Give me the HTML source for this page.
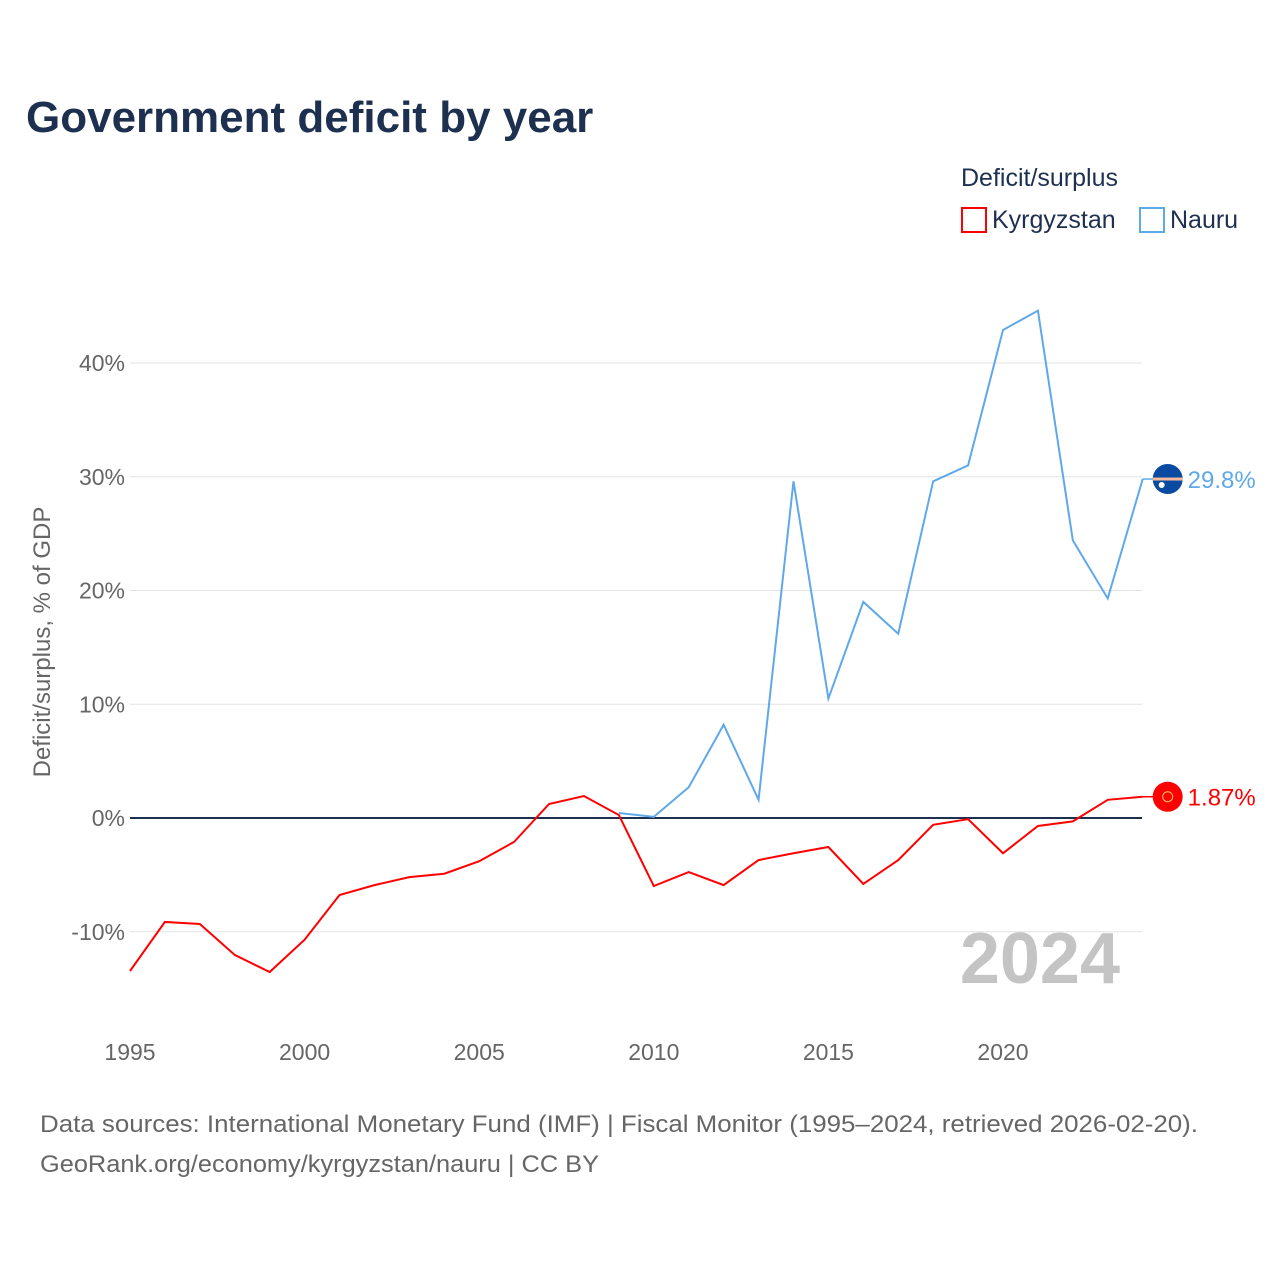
<!DOCTYPE html>
<html><head><meta charset="utf-8"><style>
body{margin:0;background:#fff;font-family:"Liberation Sans",sans-serif}
svg{display:block}
</style></head><body>
<svg id="chart" width="1280" height="1280" viewBox="0 0 1280 1280">
<text x="26" y="132" font-size="44" font-weight="bold" fill="#1d3050">Government deficit by year</text>
<text x="961" y="186" font-size="25" fill="#1d3050">Deficit/surplus</text>
<g><rect x="962" y="208" width="24" height="24" fill="none" stroke="#ff0000" stroke-width="2"/><text x="992" y="228" font-size="25" fill="#1d3050">Kyrgyzstan</text></g>
<g><rect x="1140" y="208" width="24" height="24" fill="none" stroke="#5fa8ea" stroke-width="2"/><text x="1170" y="228" font-size="25" fill="#1d3050">Nauru</text></g>
<g id="grid"></g><g id="ylab"></g><g id="xlab"></g><g id="lines"></g>
<text transform="translate(50,642) rotate(-90)" text-anchor="middle" font-size="24" fill="#666">Deficit/surplus, % of GDP</text>
<text x="1120" y="983" text-anchor="end" font-size="72" font-weight="bold" fill="#c4c4c4">2024</text>
<text x="40" y="1132" font-size="24" fill="#666" textLength="1158" lengthAdjust="spacingAndGlyphs">Data sources: International Monetary Fund (IMF) | Fiscal Monitor (1995–2024, retrieved 2026-02-20).</text>
<text x="40" y="1172" font-size="24" fill="#666" textLength="559" lengthAdjust="spacingAndGlyphs">GeoRank.org/economy/kyrgyzstan/nauru | CC BY</text>
</svg>
<script>
const years=[1995,1996,1997,1998,1999,2000,2001,2002,2003,2004,2005,2006,2007,2008,2009,2010,2011,2012,2013,2014,2015,2016,2017,2018,2019,2020,2021,2022,2023,2024];
const kyrgyzstan=[-13.45,-9.14,-9.32,-12.04,-13.54,-10.7,-6.77,-5.9,-5.2,-4.9,-3.8,-2.1,1.23,1.93,0.26,-5.98,-4.75,-5.9,-3.7,-3.1,-2.55,-5.8,-3.7,-0.6,-0.1,-3.1,-0.7,-0.3,1.6,1.87];
const nauruYears=[2009,2010,2011,2012,2013,2014,2015,2016,2017,2018,2019,2020,2021,2022,2023,2024];
const nauru=[0.44,0.1,2.7,8.2,1.6,29.6,10.5,19.0,16.2,29.6,31.0,42.9,44.6,24.4,19.3,29.8];
const yTicks=[-10,0,10,20,30,40];
const yTickLabels=["-10%","0%","10%","20%","30%","40%"];
const xTicks=[1995,2000,2005,2010,2015,2020];
const X=y=>130+(y-1995)*34.92;
const Y=v=>818-v*11.375;
const NS="http://www.w3.org/2000/svg";
function mk(t,a,p){const e=document.createElementNS(NS,t);for(const k in a)e.setAttribute(k,a[k]);p.appendChild(e);return e;}
const grid=document.getElementById('grid'),yl=document.getElementById('ylab'),xl=document.getElementById('xlab'),ln=document.getElementById('lines');
yTicks.forEach((v,i)=>{
 const g=mk('line',{x1:130,x2:1142,y1:Y(v),y2:Y(v),stroke:v===0?'#1d3050':'#e3e3e3','stroke-width':v===0?2:1},grid);
 
 
 const t=mk('text',{x:125,y:Y(v)+8,'text-anchor':'end','font-size':23,fill:'#666'},yl);t.textContent=yTickLabels[i];
 
 
});
xTicks.forEach(v=>{
 const t=mk('text',{x:X(v),y:1060,'text-anchor':'middle','font-size':23,fill:'#666'},xl);t.textContent=v;
 
 
});
function series(xs,vs,col,name,flag){
 const p=mk('polyline',{points:xs.map((x,i)=>X(x)+','+Y(vs[i])).join(' '),fill:'none',stroke:col,'stroke-width':2},ln);
 
 
 const lv=vs[vs.length-1],lx=X(xs[xs.length-1]),ly=Y(lv);
 mk('line',{x1:lx,x2:lx+12,y1:ly,y2:ly,stroke:col,'stroke-width':1.5},ln);
 const c=mk('circle',{cx:lx+25,cy:ly,r:15,fill:flag},ln);
 
 
 if(name==='nauru'){mk('rect',{x:lx+10,y:ly-1.5,width:30,height:3,fill:'#f4b8a0'},ln);mk('circle',{cx:lx+19,cy:ly+6,r:3,fill:'#fff'},ln);}
 else{mk('circle',{cx:lx+25,cy:ly,r:5,fill:'none',stroke:'#ffcc66','stroke-width':1},ln);}
 const t=mk('text',{x:lx+45,y:ly+9,'font-size':24,fill:col},ln);t.textContent=lv.toFixed(name==='nauru'?1:2)+'%';
 
 
}
series(nauruYears,nauru,'#5fa8ea','nauru','#0a4aa0');
series(years,kyrgyzstan,'#ff0000','kyrgyzstan','#ff0000');
</script>
</body></html>
